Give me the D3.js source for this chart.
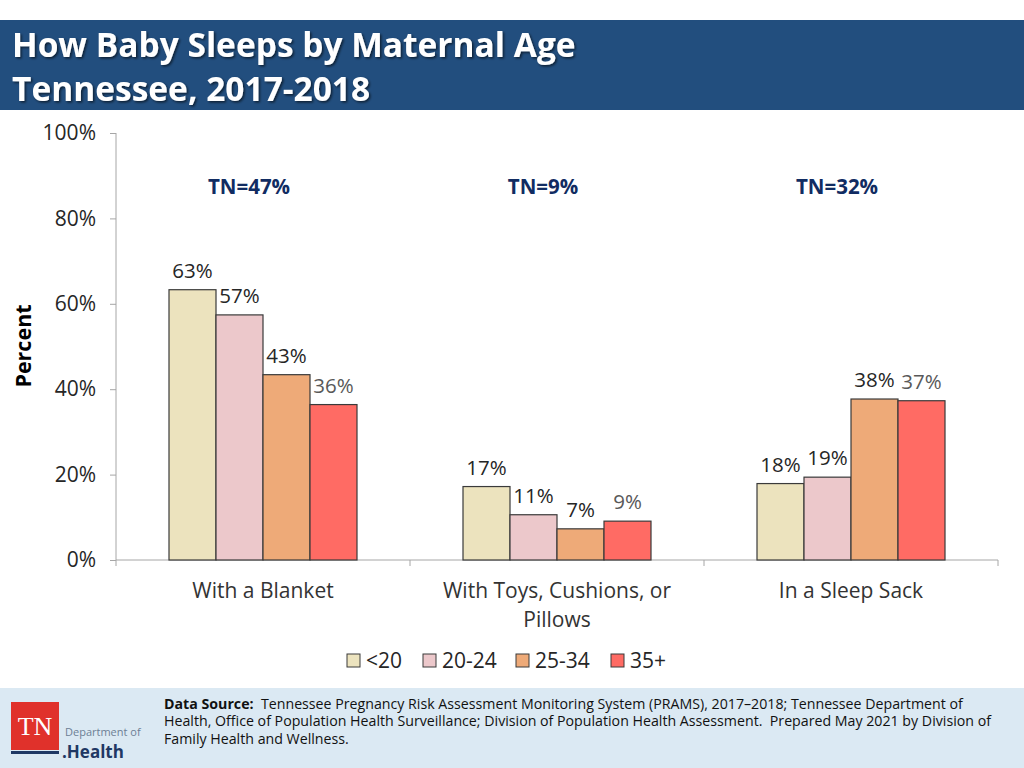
<!DOCTYPE html>
<html><head><meta charset="utf-8">
<script src="https://cdnjs.cloudflare.com/ajax/libs/d3/7.8.5/d3.min.js"></script>
<style>
body{margin:0;background:#fff;}
svg{display:block;font-family:"Open Sans",sans-serif;}
</style></head>
<body><svg id="c" width="1024" height="768"></svg>
<script>
const categories = [["With a Blanket"], ["With Toys, Cushions, or", "Pillows"], ["In a Sleep Sack"]];
const seriesNames = ["<20", "20-24", "25-34", "35+"];
const seriesColors = ["#ece3be", "#ecc8cb", "#eeaa78", "#ff6b64"];
const labelColors = ["#262626", "#262626", "#262626", "#595959"];
const values = [
  [63.3, 57.4, 43.4, 36.4],
  [17.2, 10.6, 7.3, 9.1],
  [17.9, 19.4, 37.7, 37.3]
];
const tnLabels = ["TN=47%", "TN=9%", "TN=32%"];
const yTicks = [0, 20, 40, 60, 80, 100];

const svg = d3.select("#c");

// title bar
svg.append("rect").attr("x",0).attr("y",20).attr("width",1024).attr("height",90).attr("fill","#224e7e");
const defs = svg.append("defs");
const f = defs.append("filter").attr("id","sh").attr("x","-5%").attr("y","-20%").attr("width","110%").attr("height","140%");
f.append("feDropShadow").attr("dx",1.5).attr("dy",1.5).attr("stdDeviation",1).attr("flood-color","#000").attr("flood-opacity",0.6);
svg.append("text").attr("x",12).attr("y",57).attr("fill","#fff").attr("font-size",33.5).attr("font-weight","bold")
  .attr("filter","url(#sh)").text("How Baby Sleeps by Maternal Age");
svg.append("text").attr("x",12).attr("y",101).attr("fill","#fff").attr("font-size",33.5).attr("font-weight","bold")
  .attr("filter","url(#sh)").text("Tennessee, 2017-2018");

// scales
const x0 = d3.scaleBand().domain(d3.range(categories.length)).range([116, 998]).paddingInner(0).paddingOuter(0);
const x1 = d3.scaleBand().domain(d3.range(seriesNames.length)).range([53, 294-53]).padding(0);
const y = d3.scaleLinear().domain([0, 100]).range([560, 133]);

// y axis
const ya = svg.append("g").attr("transform","translate(116,0)")
  .call(d3.axisLeft(y).tickValues(yTicks).tickFormat(d => d + "%").tickSize(6).tickPadding(14));
ya.select(".domain").attr("stroke","#a6a6a6").attr("d","M0,133V560");
ya.selectAll(".tick line").attr("stroke","#a6a6a6");
ya.selectAll("text").attr("font-size",21).attr("fill","#262626").attr("font-family","Open Sans");

// x axis
const xa = svg.append("g").attr("transform","translate(0,560)");
xa.append("line").attr("x1",116).attr("x2",998).attr("stroke","#a6a6a6");
[0,1,2].forEach(i => {
  xa.append("line").attr("x1",x0(i)).attr("x2",x0(i)).attr("y1",0).attr("y2",6).attr("stroke","#a6a6a6");
});
xa.append("line").attr("x1",998).attr("x2",998).attr("y1",0).attr("y2",6).attr("stroke","#a6a6a6");
categories.forEach((lines, i) => {
  const t = svg.append("text").attr("text-anchor","middle").attr("font-size",21).attr("fill","#333");
  lines.forEach((l, j) => {
    t.append("tspan").attr("x", x0(i) + x0.bandwidth()/2).attr("y", 598 + j*29).text(l);
  });
});

// y title
svg.append("text").attr("transform","translate(31,346) rotate(-90)").attr("text-anchor","middle")
  .attr("font-size",21.5).attr("font-weight","bold").attr("fill","#000").text("Percent");

// bars
const g = svg.append("g");
values.forEach((row, i) => {
  const gg = g.append("g").attr("transform",`translate(${x0(i)},0)`);
  row.forEach((v, j) => {
    gg.append("rect").attr("x", x1(j)).attr("y", y(v)).attr("width", x1.bandwidth()).attr("height", y(0) - y(v))
      .attr("fill", seriesColors[j]).attr("stroke","#3a3a3a").attr("stroke-width",1.2);
    gg.append("text").attr("x", x1(j) + x1.bandwidth()/2).attr("y", y(v) - 12).attr("text-anchor","middle")
      .attr("font-size",20.5).attr("fill", labelColors[j]).text(Math.round(v) + "%");
  });
  svg.append("text").attr("x", x0(i) + x0.bandwidth()/2 - 14).attr("y", 194).attr("text-anchor","middle")
    .attr("font-size",20.5).attr("font-weight","bold").attr("fill","#112c62").text(tnLabels[i]);
});

// legend
const legX = [347, 423, 516, 611];
seriesNames.forEach((n, j) => {
  svg.append("rect").attr("x", legX[j]).attr("y", 654).attr("width",13).attr("height",13)
    .attr("fill", seriesColors[j]).attr("stroke","#3a3a3a").attr("stroke-width",1);
  svg.append("text").attr("x", legX[j] + 19).attr("y", 668).attr("font-size",21).attr("fill","#262626").text(n);
});

// footer
svg.append("rect").attr("x",0).attr("y",688).attr("width",1024).attr("height",80).attr("fill","#dbe9f3");
svg.append("rect").attr("x",11).attr("y",702).attr("width",48).attr("height",48).attr("fill","#e0312b");
svg.append("text").attr("x",35).attr("y",735).attr("text-anchor","middle").attr("font-family","Liberation Serif")
  .attr("font-size",26).attr("fill","#fff").text("TN");
svg.append("rect").attr("x",11).attr("y",751).attr("width",48).attr("height",3).attr("fill","#1f3864");
svg.append("text").attr("x",65).attr("y",736).attr("font-size",11).attr("fill","#6d7f95")
  .attr("font-family","Liberation Sans Narrow, Open Sans").text("Department of");
svg.append("text").attr("x",62).attr("y",758).attr("font-size",17).attr("font-weight","bold").attr("fill","#1f3864")
  .attr("font-family","Liberation Sans Narrow, Open Sans").text(".Health");

const ft = svg.append("text").attr("font-size",14.2).attr("fill","#111");
const l1 = ft.append("tspan").attr("x",164).attr("y",709);
l1.append("tspan").attr("font-weight","bold").text("Data Source:");
l1.append("tspan").text("\u00a0 Tennessee Pregnancy Risk Assessment Monitoring System (PRAMS), 2017\u20132018; Tennessee Department of");
ft.append("tspan").attr("x",164).attr("y",726).text("Health, Office of Population Health Surveillance; Division of Population Health Assessment.\u00a0 Prepared May 2021 by Division of");
ft.append("tspan").attr("x",164).attr("y",744).text("Family Health and Wellness.");
</script></body></html>
